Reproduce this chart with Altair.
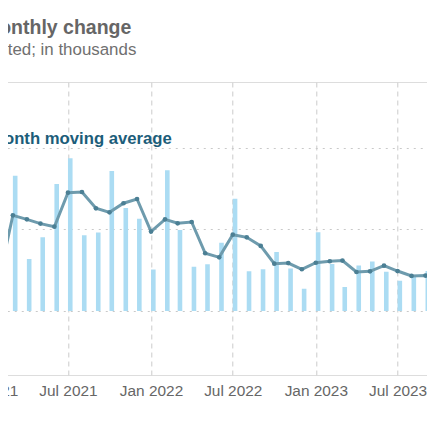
import altair as alt
import pandas as pd

# ---- data (thousands) ----
months = [
    "2020-12-01", "2021-01-01", "2021-02-01", "2021-03-01", "2021-04-01", "2021-05-01",
    "2021-06-01", "2021-07-01", "2021-08-01", "2021-09-01", "2021-10-01", "2021-11-01",
    "2021-12-01", "2022-01-01", "2022-02-01", "2022-03-01", "2022-04-01", "2022-05-01",
    "2022-06-01", "2022-07-01", "2022-08-01", "2022-09-01", "2022-10-01", "2022-11-01",
    "2022-12-01", "2023-01-01", "2023-02-01", "2023-03-01", "2023-04-01", "2023-05-01",
    "2023-06-01", "2023-07-01", "2023-08-01", "2023-09-01", "2023-10-01",
]
monthly_change = [
    -240, 400, 528, 830, 319, 452,
    779, 937, 464, 481, 859, 632,
    566, 254, 863, 497, 272, 286,
    419, 689, 243, 256, 362, 260,
    137, 483, 288, 147, 279, 304,
    241, 186, 210, 245, 170,
]
moving_avg = [
    235, 143, 231, 587, 562, 536,
    517, 726, 730, 630, 605, 661,
    687, 487, 562, 538, 546, 354,
    329, 468, 452, 399, 290, 294,
    256, 296, 305, 309, 239, 243,
    278, 245, 215, 217, 208,
]
series_name = "3-month moving average"
tick_dates = [(2021, 1), (2021, 7), (2022, 1), (2022, 7), (2023, 1), (2023, 7)]
y_ticks = [0, 500, 1000]

title_text = "Job gains, monthly change"
subtitle_text = "Seasonally adjusted; in thousands"
source_text = "Source: Bureau of Labor Statistics"

df = pd.DataFrame({
    "date": months,
    "change": monthly_change,
    "avg": moving_avg,
    "series": [series_name] * len(months),
})

FONT = "Liberation Sans"

x_enc = alt.X(
    "date:T",
    scale=alt.Scale(
        type="utc",
        domain=[alt.DateTime(year=2020, month=12, date=1, utc=True),
                alt.DateTime(year=2023, month=9, date=22, utc=True)],
        nice=False,
        padding=0,
    ),
    axis=alt.Axis(
        values=[alt.DateTime(year=y, month=m, date=1, utc=True) for y, m in tick_dates],
        format="%b %Y",
        labelFont=FONT, labelFontSize=15.4, labelColor="#666666",
        labelPadding=8.6, ticks=False, tickSize=0, domain=False,
        grid=True, gridColor="#d4d4d4", gridDash=[5, 4], gridWidth=1.2,
        title=source_text, titleFont=FONT, titleFontSize=13, titleFontWeight="normal",
        titleColor="#b8b8b8", titleAlign="right", titleBaseline="alphabetic",
        titleX=30.75, titleY=45, titleAnchor="start",
    ),
)

y_scale = alt.Scale(domain=[-393, 1405], nice=False, zero=False)
y_axis = alt.Axis(
    values=y_ticks, title=None, domain=False, ticks=False, labels=False,
    grid=True, gridColor="#c9c9c9", gridDash=[2, 5], gridWidth=1.2,
)

bars = alt.Chart().mark_bar(width=4.6, xOffset=2.3, color="#abdcf3", clip=True).encode(
    x=x_enc,
    y=alt.Y("change:Q", scale=y_scale, axis=y_axis),
)

line = alt.Chart().mark_line(strokeWidth=3, clip=True).encode(
    x="date:T",
    y="avg:Q",
    color=alt.Color(
        "series:N",
        scale=alt.Scale(domain=[series_name], range=["#6e9bad"]),
        legend=alt.Legend(
            title=None, orient="none", legendX=-26.95, legendY=45.6,
            symbolType="stroke", symbolSize=400, symbolStrokeWidth=3,
            labelOffset=6, padding=0,
            labelFont=FONT, labelFontSize=16.7, labelFontWeight="bold",
            labelColor="#1c5d7a", labelLimit=0,
        ),
    ),
)

points = alt.Chart().mark_circle(size=22, color="#4b7f94", opacity=1, clip=True).encode(
    x="date:T",
    y="avg:Q",
)

chart = alt.layer(bars, line, points, data=df).properties(
    width=462.75,
    height=293,
    padding={"left": -35.75, "top": 74, "right": -8, "bottom": 48},
    autosize=alt.AutoSizeParams(type="none"),
    title=alt.TitleParams(
        text=title_text,
        subtitle=subtitle_text,
        anchor="start",
        frame="group",
        dx=-92.25,
        offset=22.7,
        subtitlePadding=4.2,
        font=FONT, fontSize=19.5, fontWeight="bold", color="#666666",
        subtitleFont=FONT, subtitleFontSize=16.9, subtitleColor="#707070",
        subtitleFontWeight="normal",
    ),
).configure_view(stroke=None).configure(background="white")

chart.save("out.html", embed_options={"renderer": "svg", "actions": False})
